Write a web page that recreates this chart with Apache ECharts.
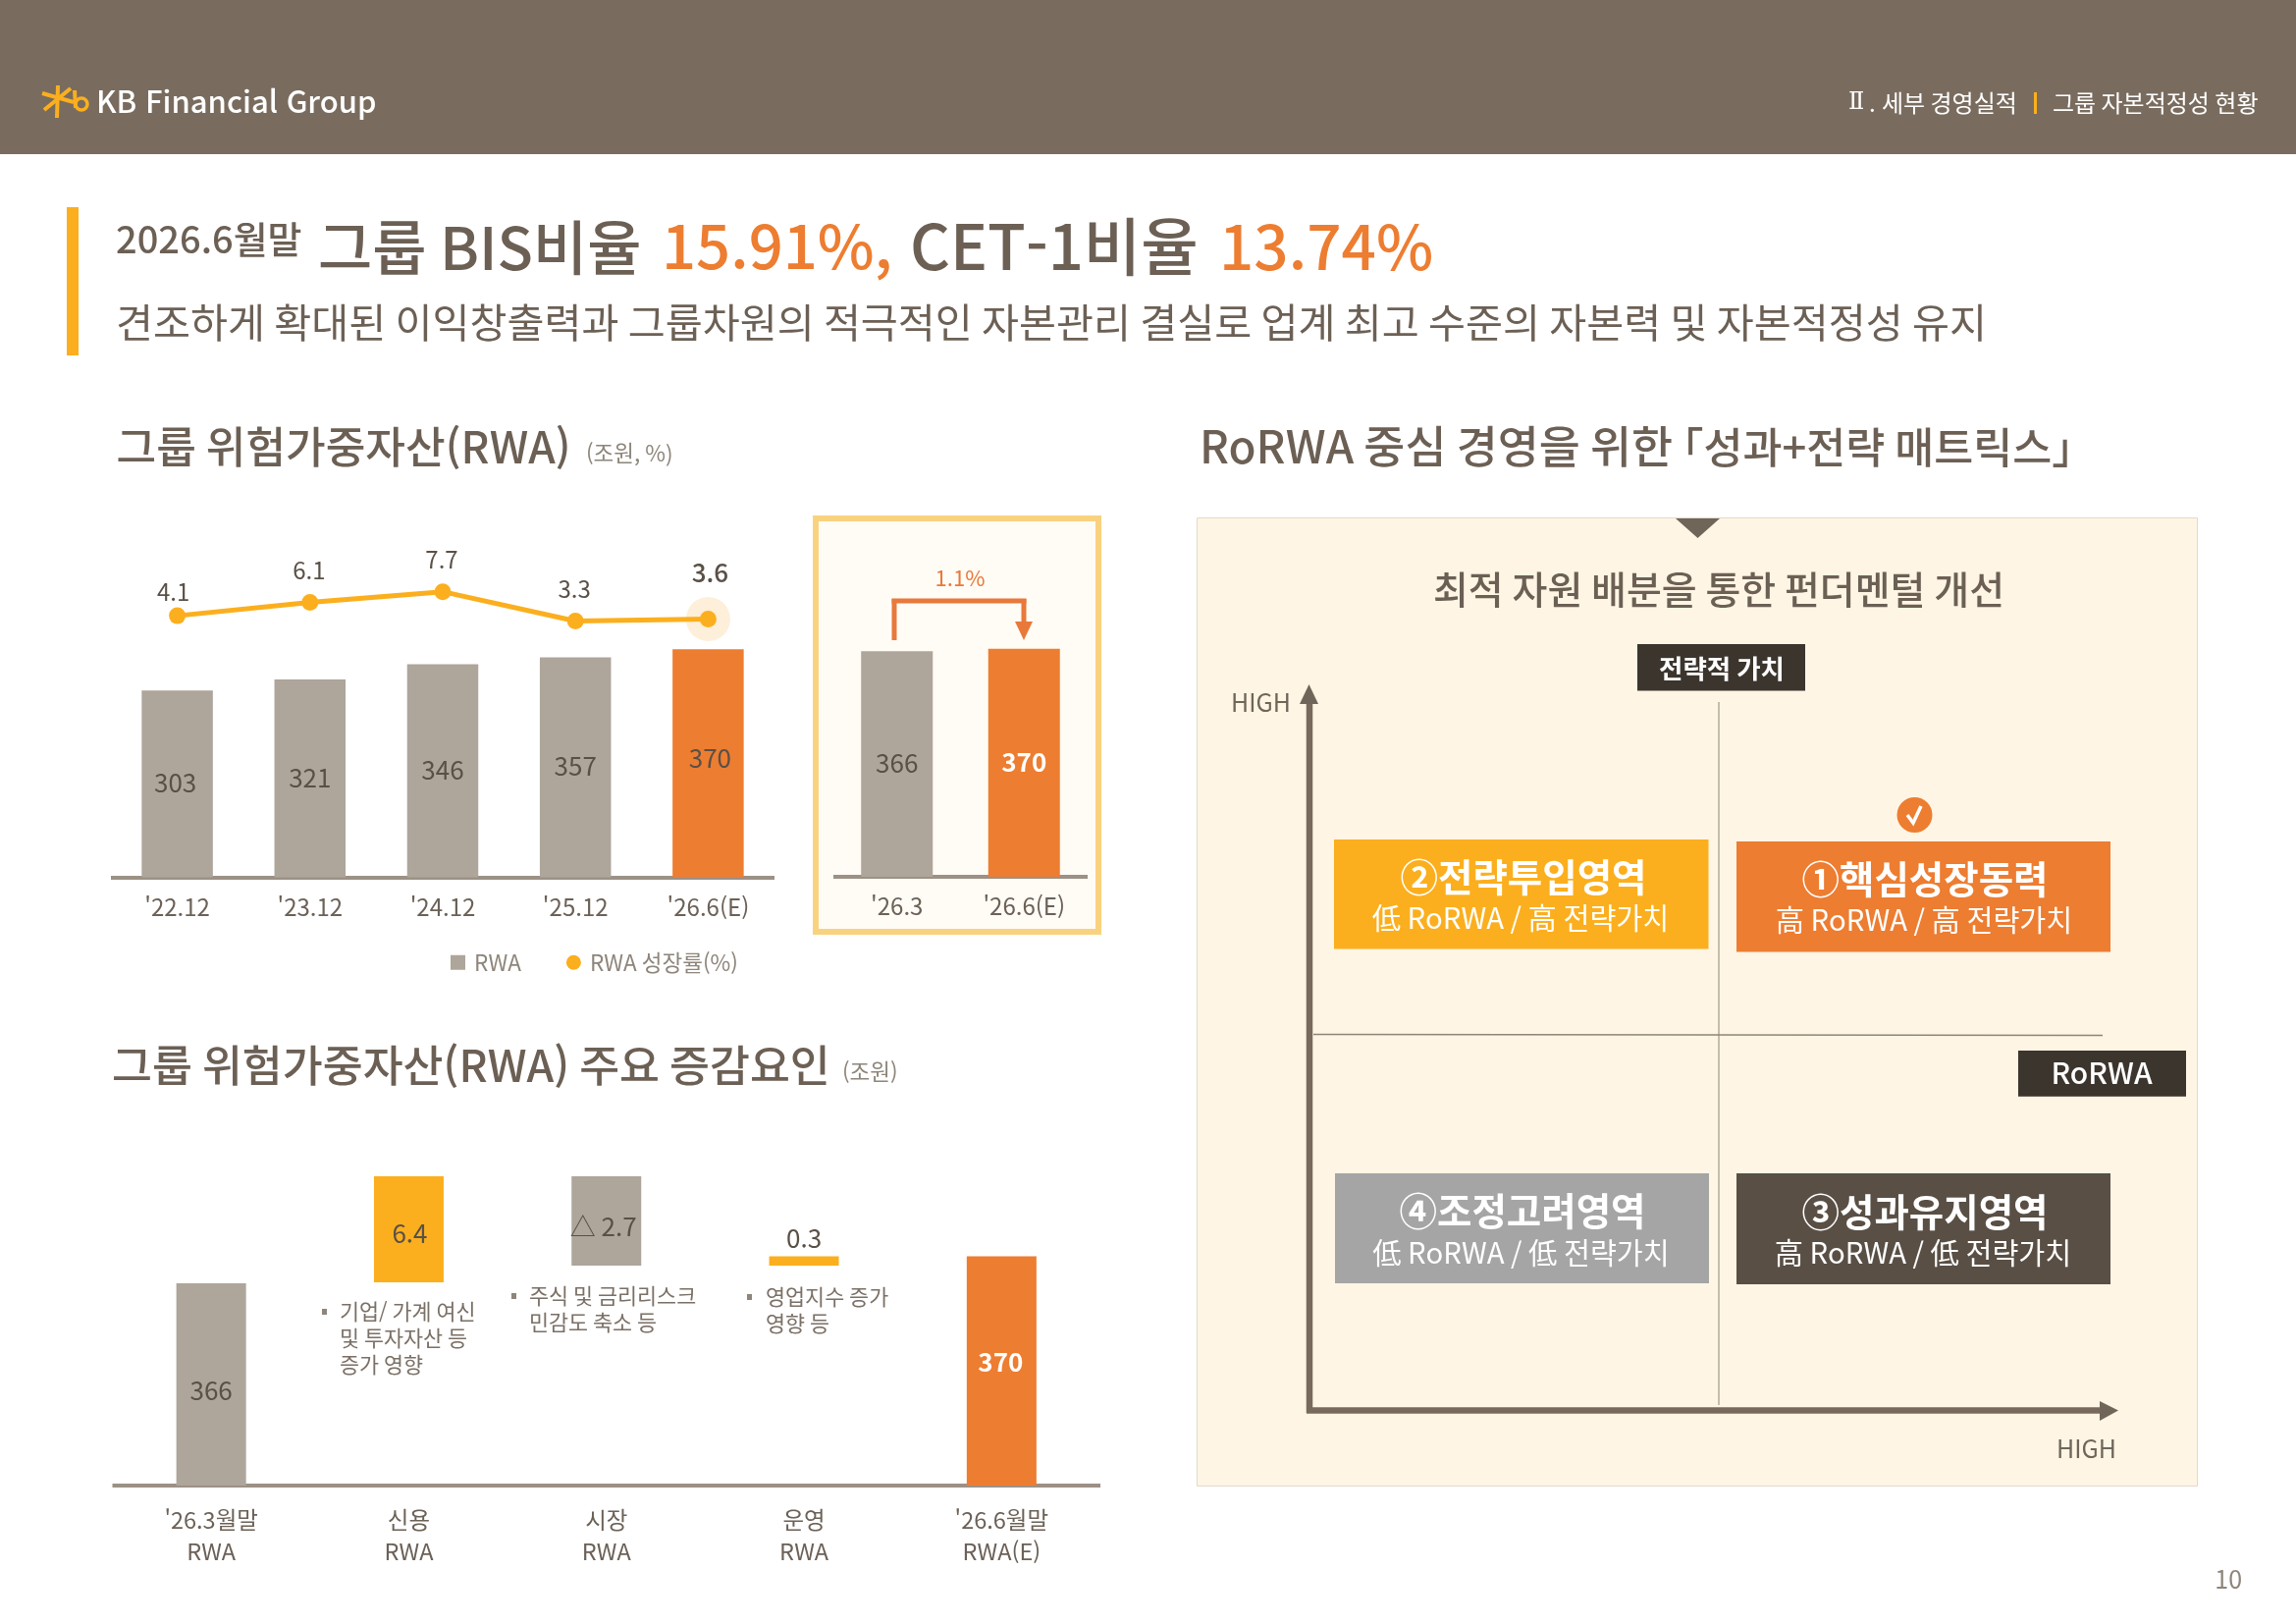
<!DOCTYPE html>
<html lang="ko">
<head>
<meta charset="utf-8">
<title>KB Financial Group</title>
<style>html,body{margin:0;padding:0;background:#fff}#c{width:2339px;height:1654px}</style>
<script src="https://cdn.jsdelivr.net/npm/echarts@6/dist/echarts.min.js"></script>
</head>
<body>
<div id="c"></div>
<script>
// ---- data ----
const rwaCategories = ["'22.12", "'23.12", "'24.12", "'25.12", "'26.6(E)"];
const rwaValues = [303, 321, 346, 357, 370];
const rwaGrowth = [4.1, 6.1, 7.7, 3.3, 3.6];
const compareCategories = ["'26.3", "'26.6(E)"];
const compareValues = [366, 370];
const bridgeCategories = ["'26.3월말\nRWA", "신용\nRWA", "시장\nRWA", "운영\nRWA", "'26.6월말\nRWA(E)"];
const bridgeLabels = ['366', '6.4', '△ 2.7', '0.3', '370'];
// The source's bridge is not drawn to scale: drawn extents of each bar
const bridgeDrawnLow = [0, 207, 224, 224, 0];
const bridgeDrawnHigh = [206, 315, 315, 233.5, 233.5];

const FONT = '"Noto Sans CJK KR","Noto Sans",sans-serif';
const C = {band:'#796C5F', title:'#6C6055', orange:'#ED7D31', yellow:'#FBAF1E', grey:'#AEA59B',
           dark:'#5A5046', axis:'#9C9186', muted:'#8E857B', panel:'#FFF5E4', badge:'#3B352E'};

function txt(x, y, s, size, color, o) {
  o = o || {};
  return {type:'text', x, y, z:20, silent:true, style:{text:s, fontFamily:o.f||FONT, fontSize:size, fontWeight:o.w||400,
    fill:color, align:o.a||'left', verticalAlign:'middle', lineHeight:o.lh}};
}
function rect(x, y, w, h, fill, o) {
  o = o || {};
  return {type:'rect', z:o.z===undefined?-1:o.z, silent:true, shape:{x, y, width:w, height:h},
    style:{fill, stroke:o.stroke||null, lineWidth:o.lw||0}};
}
function line(x1, y1, x2, y2, color, w, z) {
  return {type:'line', z:z===undefined?5:z, silent:true, shape:{x1, y1, x2, y2}, style:{stroke:color, lineWidth:w}};
}
function poly(points, fill, z) {
  return {type:'polygon', z:z===undefined?5:z, silent:true, shape:{points}, style:{fill}};
}

const graphics = [
  // header
  rect(0, 0, 2339, 157, C.band),
  line(59, 87, 58, 120, C.yellow, 4), line(43, 95, 75, 104, C.yellow, 4), line(45, 112, 72, 90, C.yellow, 4),
  line(76, 92, 77, 110, C.yellow, 4),
  {type:'circle', z:5, silent:true, shape:{cx:83, cy:106, r:6}, style:{fill:null, stroke:C.yellow, lineWidth:3.5}},
  txt(98, 103, 'KB Financial Group', 31, '#FFFFFF', {w:500}),
  txt(1883, 105, 'Ⅱ', 24, '#FFFFFF', {f:'"DejaVu Serif",serif'}),
  txt(1904, 105, '.', 24, '#FFFFFF'),
  txt(1917, 105, '세부 경영실적', 24, '#FFFFFF'),
  rect(2072, 94, 3, 22, C.yellow, {z:5}),
  txt(2091, 105, '그룹 자본적정성 현황', 24, '#FFFFFF'),
  // headline
  rect(68, 211, 12, 151, C.yellow),
  txt(118, 244, '2026.6월말', 38, C.title, {w:500}),
  txt(324, 252, '그룹 BIS비율', 60, C.title, {w:500}),
  txt(674, 251, '15.91%,', 61.6, C.orange, {w:500}),
  txt(927, 251, 'CET-1비율', 63.5, C.title, {w:500}),
  txt(1242, 251, '13.74%', 62, C.orange, {w:500}),
  txt(118, 328, '견조하게 확대된 이익창출력과 그룹차원의 적극적인 자본관리 결실로 업계 최고 수준의 자본력 및 자본적정성 유지', 41.3, C.title),
  // section headings
  txt(118.5, 455, '그룹 위험가중자산(RWA)', 44.2, C.title, {w:500}),
  txt(597, 461, '(조원, %)', 22.5, C.muted),
  txt(114, 1085, '그룹 위험가중자산(RWA) 주요 증감요인', 44.5, C.title, {w:500}),
  txt(858, 1091, '(조원)', 22.5, C.muted),
  txt(1222, 455, 'RoRWA 중심 경영을 위한', 45.7, C.title, {w:500}),
  txt(1692, 455, '「성과+전략 매트릭스」', 43.5, C.title, {w:500}),
  // compare box
  rect(831, 528, 288, 421, '#FFFBF5', {stroke:'#F9D27F', lw:6}),
  line(911, 652, 911, 610, '#E8793A', 5), line(908.5, 612, 1045.5, 612, '#E8793A', 5), line(1043, 610, 1043, 636, '#E8793A', 5),
  poly([[1034, 633], [1052, 633], [1043, 652]], '#E8793A'),
  txt(978, 589, '1.1%', 22, '#E8793A', {a:'center'}),
  // bridge notes
  rect(328, 1333, 5, 6, C.muted, {z:5}),
  txt(346, 1336, '기업/ 가계 여신', 21.8, '#7B7066'), txt(346, 1363, '및 투자자산 등', 21.8, '#7B7066'), txt(346, 1390, '증가 영향', 21.8, '#7B7066'),
  rect(521, 1317, 5, 6, C.muted, {z:5}),
  txt(539, 1320, '주식 및 금리리스크', 21.8, '#7B7066'), txt(539, 1347, '민감도 축소 등', 21.8, '#7B7066'),
  rect(761, 1318, 5, 6, C.muted, {z:5}),
  txt(780, 1321, '영업지수 증가', 21.8, '#7B7066'), txt(780, 1348, '영향 등', 21.8, '#7B7066'),
  // matrix panel
  rect(1219.5, 527.5, 1019, 986, C.panel, {stroke:'#E2DACB', lw:1}),
  poly([[1707, 528], [1752, 528], [1729.5, 548]], '#706559'),
  txt(1751, 600, '최적 자원 배분을 통한 펀더멘털 개선', 39, C.title, {a:'center', w:500}),
  rect(1668, 656, 171, 47.5, C.badge, {z:4}),
  txt(1754, 681, '전략적 가치', 26.5, '#FFFFFF', {a:'center', w:700}),
  txt(1254, 715, 'HIGH', 25, '#706559'),
  line(1751, 715, 1751, 1431, '#8E8479', 1),
  line(1338, 1053.5, 2142, 1054.5, '#8E8479', 1.5),
  line(1334, 714, 1334, 1439, '#776A5D', 6.5),
  poly([[1333.5, 697], [1343, 717], [1324, 717]], '#706559'),
  line(1331, 1436.5, 2142, 1436.5, '#776A5D', 6.5),
  poly([[2139, 1427], [2158, 1436.5], [2139, 1447]], '#706559'),
  rect(2056, 1070, 171, 46.7, C.badge, {z:4}),
  txt(2141, 1093, 'RoRWA', 30, '#FFFFFF', {a:'center', w:500}),
  txt(2095, 1475, 'HIGH', 25, '#706559'),
  // quadrants
  rect(1359, 855, 381.5, 111.5, C.yellow, {z:4}),
  txt(1552, 893.5, '②전략투입영역', 38.5, '#FFFFFF', {a:'center', w:700}),
  txt(1549, 934.5, '低 RoRWA / 高 전략가치', 29.3, '#FFFFFF', {a:'center'}),
  rect(1769, 857, 381, 112.5, C.orange, {z:4}),
  txt(1961, 895.5, '①핵심성장동력', 38.5, '#FFFFFF', {a:'center', w:700}),
  txt(1960, 936.5, '高 RoRWA / 高 전략가치', 29.3, '#FFFFFF', {a:'center'}),
  rect(1360, 1195, 381, 112, '#A5A5A5', {z:4}),
  txt(1551, 1233.5, '④조정고려영역', 38.5, '#FFFFFF', {a:'center', w:700}),
  txt(1549.5, 1275.5, '低 RoRWA / 低 전략가치', 29.3, '#FFFFFF', {a:'center'}),
  rect(1769, 1195, 381, 113, '#594F45', {z:4}),
  txt(1961, 1234, '③성과유지영역', 38.5, '#FFFFFF', {a:'center', w:700}),
  txt(1959, 1275.5, '高 RoRWA / 低 전략가치', 29.3, '#FFFFFF', {a:'center'}),
  {type:'circle', z:5, silent:true, shape:{cx:1950.5, cy:830, r:18}, style:{fill:C.orange}},
  {type:'polyline', z:6, silent:true, shape:{points:[[1943, 830], [1949, 838], [1957, 821]]},
    style:{fill:null, stroke:'#FFFFFF', lineWidth:3.5}},
  txt(2284, 1608, '10', 25, C.muted, {a:'right'})
];

const catAxis = (gridIndex, data, labelExtra) => ({
  type:'category', gridIndex, data,
  axisLine:{show:true, lineStyle:{color:C.axis, width:4, cap:'butt'}}, axisTick:{show:false},
  axisLabel:Object.assign({color:'#6B6157', fontFamily:FONT, fontSize:24, margin:18, interval:0}, labelExtra)
});
const valAxis = (gridIndex, min, max) => ({
  type:'value', gridIndex, min, max, show:false, splitLine:{show:false}
});
const barLabel = (color, extra) => Object.assign({show:true, position:'inside', color, fontFamily:FONT, fontSize:26}, extra);

const option = {
  animation:false,
  backgroundColor:'#FFFFFF',
  textStyle:{fontFamily:FONT},
  graphic:{elements:graphics},
  legend:{
    left:454, top:964, itemWidth:15, itemHeight:15, itemGap:46, icon:'rect',
    textStyle:{color:C.muted, fontFamily:FONT, fontSize:22.5, padding:[2, 0, 0, 4]},
    selectedMode:false,
    data:[{name:'RWA', icon:'rect'}, {name:'RWA 성장률(%)', icon:'circle'}]
  },
  grid:[
    {left:113, top:642.5, width:676, height:251},
    {left:113, top:587, width:676, height:68},
    {left:849, top:642, width:259, height:251},
    {left:114.5, top:1173, width:1006.5, height:340}
  ],
  xAxis:[
    catAxis(0, rwaCategories),
    Object.assign(catAxis(1, rwaCategories), {show:false}),
    catAxis(2, compareCategories),
    catAxis(3, bridgeCategories, {lineHeight:32, fontSize:23.5, margin:19})
  ],
  yAxis:[valAxis(0, 0, 400), valAxis(1, 0, 10), valAxis(2, 0, 400), valAxis(3, 0, 340)],
  series:[
    {name:'RWA', type:'bar', xAxisIndex:0, yAxisIndex:0, barWidth:72.5, z:2,
     itemStyle:{color:C.grey},
     label:barLabel(C.dark, {offset:[0, -1]}),
     data:rwaValues.map((v, i) => i === 0 ? {value:v, label:{offset:[-2, -1]}}
       : i === rwaValues.length - 1 ? {value:v, itemStyle:{color:C.orange}, label:{offset:[2, -5]}} : {value:v})},
    {name:'성장률 강조', type:'scatter', xAxisIndex:1, yAxisIndex:1, symbolSize:45, z:2, silent:true,
     itemStyle:{color:'#FCEBCF'},
     data:rwaGrowth.map((v, i) => i === rwaGrowth.length - 1 ? v : '-')},
    {name:'RWA 성장률(%)', type:'line', xAxisIndex:1, yAxisIndex:1, z:3,
     symbol:'circle', symbolSize:17, showAllSymbol:true,
     lineStyle:{color:C.yellow, width:5}, itemStyle:{color:C.yellow},
     label:{show:true, position:'top', color:C.dark, fontFamily:FONT, fontSize:24, distance:13, offset:[-1, 1]},
     data:rwaGrowth.map((v, i) => i === 0 ? {value:v, label:{offset:[-4, 9]}}
       : i === rwaGrowth.length - 1 ? {value:v, label:{fontSize:26, fontWeight:500, offset:[2, -13]}} : {value:v})},
    {name:'비교', type:'bar', xAxisIndex:2, yAxisIndex:2, barWidth:73, z:2,
     itemStyle:{color:C.grey},
     label:barLabel(C.dark, {offset:[0, -1]}),
     data:compareValues.map((v, i) => i === 1
       ? {value:v, itemStyle:{color:C.orange}, label:{color:'#FFFFFF', fontWeight:700}} : {value:v})},
    {name:'기준', type:'bar', stack:'bridge', xAxisIndex:3, yAxisIndex:3, barWidth:71, z:2, silent:true,
     itemStyle:{color:'transparent'}, data:bridgeDrawnLow},
    {name:'증감', type:'bar', stack:'bridge', xAxisIndex:3, yAxisIndex:3, barWidth:71, z:2,
     label:barLabel(C.dark, {formatter:p => bridgeLabels[p.dataIndex]}),
     data:bridgeDrawnHigh.map((h, i) => {
       const item = {value:h - bridgeDrawnLow[i]};
       if (i === 0) { item.itemStyle = {color:C.grey}; item.label = {offset:[0, 6]}; }
       if (i === 1) { item.itemStyle = {color:C.yellow}; item.label = {offset:[1, 4]}; }
       if (i === 2) { item.itemStyle = {color:C.grey}; item.label = {offset:[-3, 6]}; }
       if (i === 3) { item.itemStyle = {color:C.yellow}; item.label = {position:'top', distance:5}; }
       if (i === 4) { item.itemStyle = {color:C.orange}; item.label = {color:'#FFFFFF', fontWeight:700, offset:[-1, -9]}; }
       return item;
     })}
  ]
};

echarts.init(document.getElementById('c'), null, {renderer:'canvas', width:2339, height:1654}).setOption(option);
</script>
</body>
</html>
